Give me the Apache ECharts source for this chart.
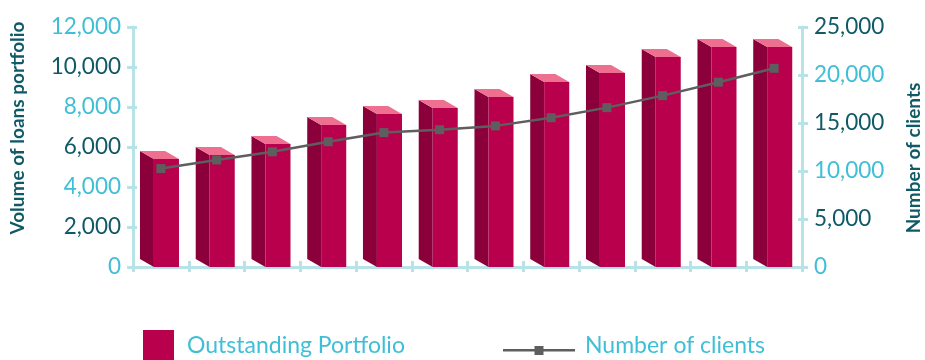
<!DOCTYPE html>
<html>
<head>
<meta charset="utf-8">
<script src="https://cdn.jsdelivr.net/npm/echarts@6/dist/echarts.min.js"></script>
<style>
  html, body { margin: 0; padding: 0; background: #ffffff; }
  #chart { width: 925px; height: 360px; }
</style>
</head>
<body>
<div id="chart"></div>
<script>
// Periods along the horizontal axis (not labelled on the chart)
const periods = ['1', '2', '3', '4', '5', '6', '7', '8', '9', '10', '11', '12'];
// Outstanding portfolio volume (left axis)
const portfolio = [5400, 5600, 6150, 7100, 7650, 7950, 8500, 9250, 9700, 10500, 11000, 11000];
// Number of clients (right axis)
const clients = [10250, 11150, 12000, 13050, 14000, 14300, 14700, 15550, 16600, 17850, 19250, 20700];

const barName = 'Outstanding Portfolio';
const lineName = 'Number of clients';
const leftTitle = 'Volume of loans portfolio';
const rightTitle = 'Number of clients';

const CYAN = '#3fbfd7';
const TEAL = '#0f5a66';
const AXIS = '#b7e2e7';
const LINE = '#5e5e5e';
const FONT = 'Lato, "Noto Sans", sans-serif';

// Legend glyph for the line: a stroke with a square marker, sitting low in its box
const lineGlyph = 'path://M0,0 L72,0 L72,0.01 L0,0.01 Z M0,13 L72,13 L72,15.5 L0,15.5 Z M31.5,10 L40.5,10 L40.5,19 L31.5,19 Z';

const chart = echarts.init(document.getElementById('chart'), null, { renderer: 'canvas' });

// Alternate tick label colours: cyan, dark teal, cyan...
const tickLabel = (v, i) => {
  const s = Number(v).toLocaleString('en-US');
  return i % 2 === 0 ? '{c|' + s + '}' : '{d|' + s + '}';
};
const labelRich = {
  c: { color: CYAN, fontSize: 22.5, fontFamily: FONT },
  d: { color: TEAL, fontSize: 22.5, fontFamily: FONT }
};

// Pseudo-3D column: front face, darker left side, light top
function renderColumn(params, api) {
  const idx = api.value(0);
  const val = api.value(1);
  const top = api.coord([idx, val]);
  const base = api.coord([idx, 0]);
  const bw = api.size([1, 0])[0];
  const fl = top[0] - bw * 0.125;
  const fw = bw * 0.45;
  const fr = fl + fw;
  const dx = bw * 0.25;
  const dy = 8;
  return {
    type: 'group',
    children: [
      {
        type: 'polygon',
        shape: { points: [[fl - dx, top[1] - dy], [fl, top[1]], [fl, base[1]], [fl - dx, base[1] - dy]] },
        style: { fill: '#8b003a' }
      },
      {
        type: 'rect',
        shape: { x: fl, y: top[1], width: fw, height: base[1] - top[1] },
        style: { fill: '#b8004c' }
      },
      {
        type: 'polygon',
        shape: { points: [[fl - dx, top[1] - dy], [fr - dx, top[1] - dy], [fr, top[1]], [fl, top[1]]] },
        style: { fill: '#ef6f91' }
      }
    ]
  };
}

const option = {
  backgroundColor: '#ffffff',
  animation: false,
  grid: { left: 133, right: 123, top: 27, bottom: 93, containLabel: false },
  legend: [
    {
      left: 138, top: 325,
      itemWidth: 31, itemHeight: 31, itemGap: 10,
      textStyle: { color: CYAN, fontSize: 23, fontFamily: FONT, padding: [9, 0, 0, 8] },
      data: [{ name: barName, icon: 'rect', itemStyle: { color: '#b8004c' } }]
    },
    {
      left: 498, top: 329,
      itemWidth: 72, itemHeight: 19,
      textStyle: { color: CYAN, fontSize: 23, fontFamily: FONT, padding: [0, 0, 0, 5] },
      data: [{ name: lineName, icon: lineGlyph, itemStyle: { color: LINE, borderWidth: 0 } }]
    }
  ],
  xAxis: [
    {
      type: 'category', data: periods, boundaryGap: true,
      axisLine: { show: true, lineStyle: { color: AXIS, width: 3 } },
      axisTick: { show: true, interval: 0, length: 5, lineStyle: { color: AXIS, width: 3 } },
      axisLabel: { show: false },
      splitLine: { show: false }
    },
    {
      type: 'category', data: periods, boundaryGap: true, position: 'bottom',
      axisLine: { show: false },
      axisTick: { show: true, inside: true, interval: 0, length: 6, lineStyle: { color: AXIS, width: 3 } },
      axisLabel: { show: false },
      splitLine: { show: false }
    }
  ],
  yAxis: [
    {
      type: 'value', min: 0, max: 12000, interval: 2000, position: 'left',
      axisLine: { show: true, lineStyle: { color: AXIS, width: 3 } },
      axisTick: { show: true, length: 6, lineStyle: { color: AXIS, width: 3 } },
      axisLabel: { margin: 12, formatter: tickLabel, rich: labelRich },
      splitLine: { show: false }
    },
    {
      type: 'value', min: 0, max: 25000, interval: 5000, position: 'right',
      axisLine: { show: true, lineStyle: { color: AXIS, width: 3 } },
      axisTick: { show: true, length: 6, lineStyle: { color: AXIS, width: 3 } },
      axisLabel: { margin: 12, formatter: tickLabel, rich: labelRich },
      splitLine: { show: false }
    },
    {
      type: 'value', min: 0, max: 12000, interval: 2000, position: 'left',
      axisLine: { show: false },
      axisTick: { show: true, inside: true, length: 4, lineStyle: { color: AXIS, width: 3 } },
      axisLabel: { show: false },
      splitLine: { show: false }
    },
    {
      type: 'value', min: 0, max: 25000, interval: 5000, position: 'right',
      axisLine: { show: false },
      axisTick: { show: true, inside: true, length: 4, lineStyle: { color: AXIS, width: 3 } },
      axisLabel: { show: false },
      splitLine: { show: false }
    }
  ],
  graphic: [
    {
      type: 'text', x: 18, y: 128, rotation: Math.PI / 2,
      style: { text: leftTitle, fill: TEAL, font: 'bold 19px ' + FONT, align: 'center', verticalAlign: 'middle' }
    },
    {
      type: 'text', x: 914, y: 158, rotation: Math.PI / 2,
      style: { text: rightTitle, fill: TEAL, font: 'bold 19px ' + FONT, align: 'center', verticalAlign: 'middle' }
    }
  ],
  series: [
    {
      name: barName, type: 'custom', xAxisIndex: 0, yAxisIndex: 0,
      renderItem: renderColumn,
      itemStyle: { color: '#b8004c' },
      encode: { x: 0, y: 1 },
      data: portfolio.map((v, i) => [i, v]),
      z: 2
    },
    {
      name: lineName, type: 'line', xAxisIndex: 0, yAxisIndex: 1,
      data: clients,
      symbol: 'rect', symbolSize: 9,
      lineStyle: { color: LINE, width: 2.5 },
      itemStyle: { color: LINE },
      z: 5
    }
  ]
};

chart.setOption(option);
</script>
</body>
</html>
